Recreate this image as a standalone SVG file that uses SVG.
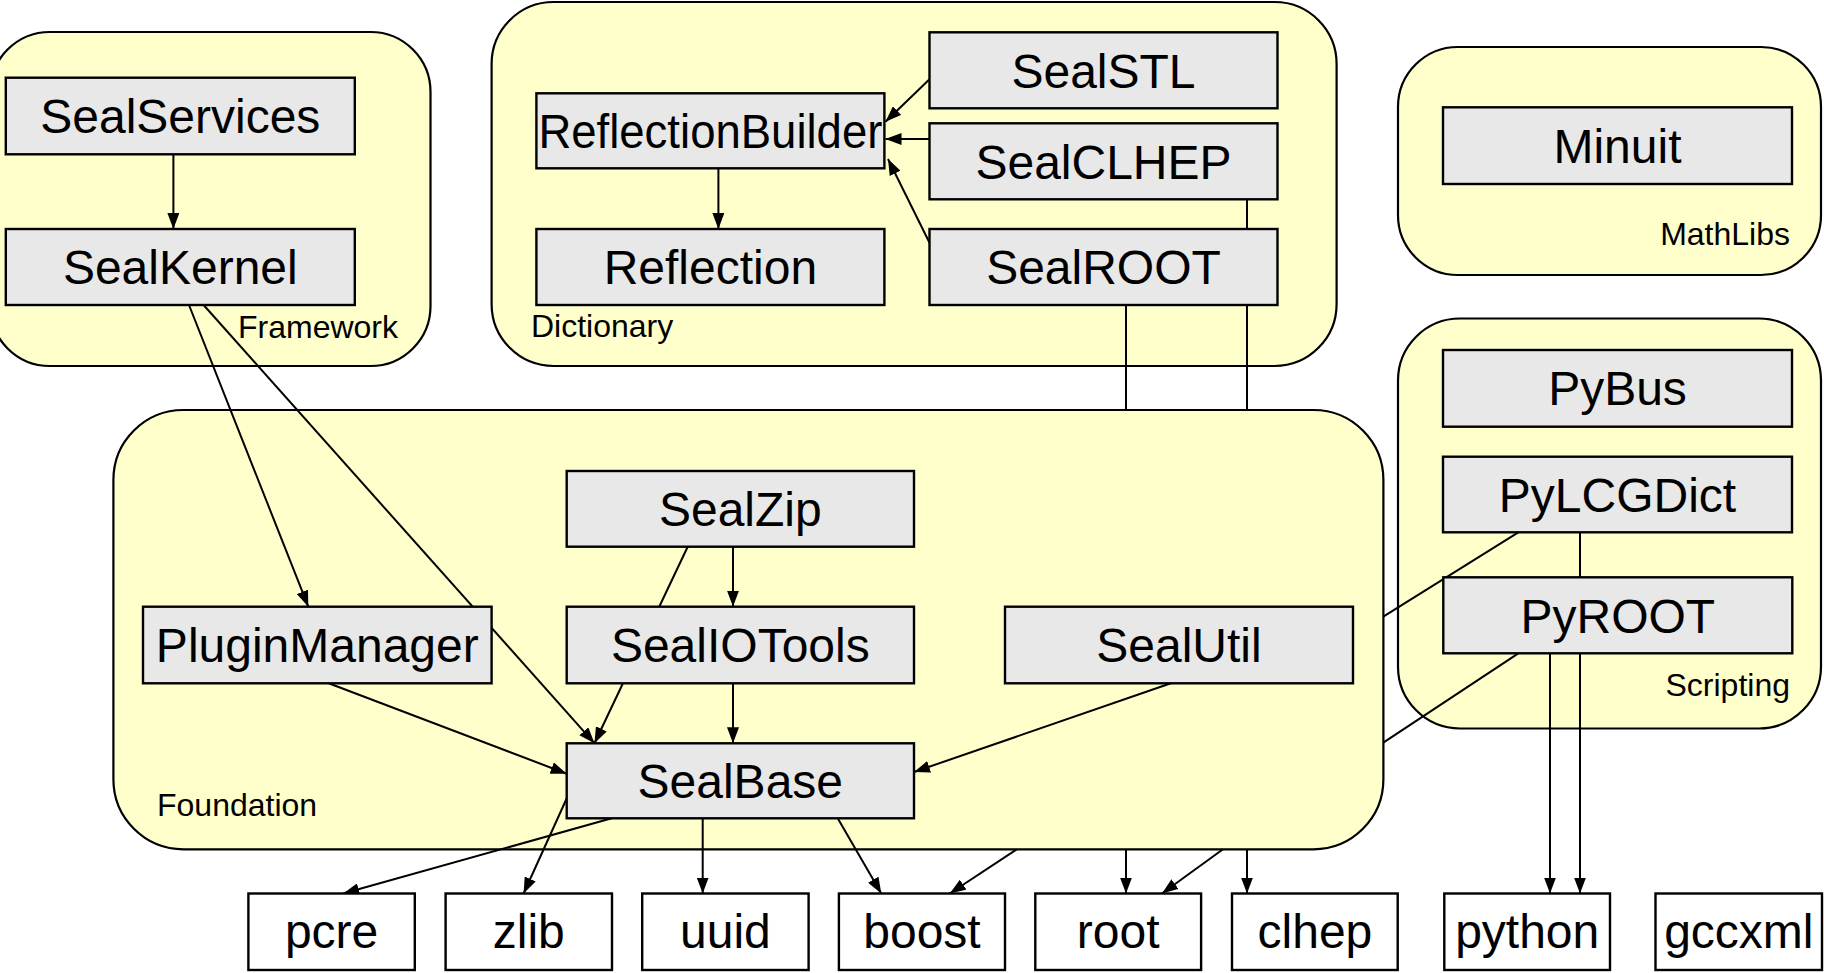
<svg xmlns="http://www.w3.org/2000/svg" width="1824" height="973" viewBox="0 0 1824 973">
<style>
.cl{fill:#FFFFCC;stroke:#000;stroke-width:2.2}
.nd{fill:#E8E8E8;stroke:#000;stroke-width:2.4}
.ext{fill:#FFFFFF;stroke:#000;stroke-width:2.4}
.t{font-family:"Liberation Sans",Arial,sans-serif;font-size:48px;fill:#000;text-anchor:middle}
.lb{font-family:"Liberation Sans",Arial,sans-serif;font-size:32px;fill:#000}
.c line,.c path{stroke:#000;stroke-width:2;fill:none}
</style>
<defs>
<marker id="a" viewBox="0 0 16 12" refX="16" refY="6" markerWidth="16" markerHeight="12" orient="auto" markerUnits="userSpaceOnUse"><path d="M0,0 L16,6 L0,12 z" fill="#000"/></marker>
</defs>
<rect width="1824" height="973" fill="#FFFFFF"/>

<g id="cluster-framework"><rect class="cl" x="-10" y="32" width="440.5" height="334" rx="60" ry="60"/><text class="lb" x="238" y="338">Framework</text></g>
<g id="cluster-dictionary"><rect class="cl" x="491.6" y="2" width="845" height="364" rx="62" ry="62"/><text class="lb" x="531" y="337">Dictionary</text></g>
<g id="cluster-mathlibs"><rect class="cl" x="1398" y="47" width="423" height="228" rx="60" ry="60"/><text class="lb" x="1790" y="245" text-anchor="end">MathLibs</text></g>
<g id="cluster-scripting"><rect class="cl" x="1398" y="318.5" width="423" height="410" rx="62" ry="62"/><text class="lb" x="1790" y="696" text-anchor="end">Scripting</text></g>
<g id="cluster-foundation"><rect class="cl" x="113.4" y="410" width="1270" height="439.3" rx="70" ry="70"/><text class="lb" x="157" y="816">Foundation</text></g>

<g id="connectors" class="c">
<line x1="173.4" y1="154.3" x2="173.4" y2="229" marker-end="url(#a)"/>
<line x1="189" y1="305" x2="308.3" y2="606.7" marker-end="url(#a)"/>
<line x1="203.6" y1="305" x2="594.5" y2="743.3" marker-end="url(#a)"/>
<line x1="718.4" y1="168.3" x2="718.4" y2="229" marker-end="url(#a)"/>
<line x1="929.5" y1="79.3" x2="885.5" y2="121.7" marker-end="url(#a)"/>
<line x1="929.5" y1="139" x2="885.5" y2="139" marker-end="url(#a)"/>
<line x1="929.5" y1="242.7" x2="888" y2="159" marker-end="url(#a)"/>
<line x1="1247" y1="199.3" x2="1247" y2="229"/>
<line x1="1247" y1="305" x2="1247" y2="410"/>
<line x1="1247" y1="849.3" x2="1247" y2="893.5" marker-end="url(#a)"/>
<line x1="1126" y1="305" x2="1126" y2="410"/>
<line x1="1126" y1="849.3" x2="1126" y2="893.5" marker-end="url(#a)"/>
<line x1="733" y1="546.7" x2="733" y2="606.7" marker-end="url(#a)"/>
<line x1="687.7" y1="546.7" x2="594.5" y2="743.3" marker-end="url(#a)"/>
<line x1="733" y1="683.3" x2="733" y2="743.3" marker-end="url(#a)"/>
<line x1="328.7" y1="683.3" x2="566.7" y2="773.7" marker-end="url(#a)"/>
<line x1="1170.9" y1="683.3" x2="914" y2="772" marker-end="url(#a)"/>
<line x1="611.7" y1="818.3" x2="343.2" y2="893.5" marker-end="url(#a)"/>
<line x1="574.6" y1="781" x2="523.6" y2="893.5" marker-end="url(#a)"/>
<line x1="702.7" y1="818.3" x2="702.7" y2="893.5" marker-end="url(#a)"/>
<line x1="837.7" y1="818.3" x2="881.3" y2="893.5" marker-end="url(#a)"/>
<line x1="1016.7" y1="849.3" x2="949.8" y2="893.5" marker-end="url(#a)"/>
<line x1="1223" y1="849.3" x2="1162" y2="893.5" marker-end="url(#a)"/>
<line x1="1580" y1="532.3" x2="1580" y2="577.3"/>
<line x1="1580" y1="653.3" x2="1580" y2="893.5" marker-end="url(#a)"/>
<line x1="1550" y1="653.3" x2="1550" y2="893.5" marker-end="url(#a)"/>
<line x1="1518.3" y1="532.3" x2="1383.3" y2="616.7"/>
<line x1="1518.3" y1="653.3" x2="1383.3" y2="742.7"/>
</g>

<g id="SealServices"><rect class="nd" x="5.8" y="77.7" width="349" height="76.6"/><text class="t" x="180.3" y="133">SealServices</text></g>
<g id="SealKernel"><rect class="nd" x="5.8" y="229" width="349" height="76"/><text class="t" x="180.3" y="284">SealKernel</text></g>
<g id="ReflectionBuilder"><rect class="nd" x="536.4" y="93.3" width="348" height="75"/><text class="t" x="710.4" y="148" textLength="344" lengthAdjust="spacingAndGlyphs">ReflectionBuilder</text></g>
<g id="Reflection"><rect class="nd" x="536.4" y="229" width="348" height="76"/><text class="t" x="710.4" y="284">Reflection</text></g>
<g id="SealSTL"><rect class="nd" x="929.5" y="32.3" width="348" height="76"/><text class="t" x="1103.5" y="87.5">SealSTL</text></g>
<g id="SealCLHEP"><rect class="nd" x="929.5" y="123.3" width="348" height="76"/><text class="t" x="1103.5" y="178.5">SealCLHEP</text></g>
<g id="SealROOT"><rect class="nd" x="929.5" y="229" width="348" height="76"/><text class="t" x="1103.5" y="284">SealROOT</text></g>
<g id="Minuit"><rect class="nd" x="1443" y="107.3" width="349" height="76.7"/><text class="t" x="1617.5" y="162.5">Minuit</text></g>
<g id="PyBus"><rect class="nd" x="1443" y="350" width="349" height="76.7"/><text class="t" x="1617.5" y="405">PyBus</text></g>
<g id="PyLCGDict"><rect class="nd" x="1443" y="456.7" width="349" height="75.6"/><text class="t" x="1617.5" y="511.5">PyLCGDict</text></g>
<g id="PyROOT"><rect class="nd" x="1443.3" y="577.3" width="349" height="76"/><text class="t" x="1617.8" y="632.5">PyROOT</text></g>
<g id="SealZip"><rect class="nd" x="566.7" y="471" width="347.3" height="75.7"/><text class="t" x="740.3" y="526">SealZip</text></g>
<g id="PluginManager"><rect class="nd" x="143" y="606.7" width="348.6" height="76.6"/><text class="t" x="317.3" y="662">PluginManager</text></g>
<g id="SealIOTools"><rect class="nd" x="566.7" y="606.7" width="347.3" height="76.6"/><text class="t" x="740.3" y="662">SealIOTools</text></g>
<g id="SealUtil"><rect class="nd" x="1005" y="606.7" width="348" height="76.6"/><text class="t" x="1179" y="662">SealUtil</text></g>
<g id="SealBase"><rect class="nd" x="566.7" y="743.3" width="347.3" height="75"/><text class="t" x="740.3" y="798">SealBase</text></g>

<g id="pcre"><rect class="ext" x="248.4" y="893.5" width="166.4" height="76.5"/><text class="t" x="331.6" y="948">pcre</text></g>
<g id="zlib"><rect class="ext" x="445.6" y="893.5" width="166.4" height="76.5"/><text class="t" x="528.8" y="948">zlib</text></g>
<g id="uuid"><rect class="ext" x="642.2" y="893.5" width="166.4" height="76.5"/><text class="t" x="725.4" y="948">uuid</text></g>
<g id="boost"><rect class="ext" x="838.9" y="893.5" width="166.1" height="76.5"/><text class="t" x="922" y="948">boost</text></g>
<g id="root"><rect class="ext" x="1035.3" y="893.5" width="165.8" height="76.5"/><text class="t" x="1118.2" y="948">root</text></g>
<g id="clhep"><rect class="ext" x="1232" y="893.5" width="165.7" height="76.5"/><text class="t" x="1314.9" y="948">clhep</text></g>
<g id="python"><rect class="ext" x="1444.3" y="893.5" width="165.7" height="76.5"/><text class="t" x="1527.2" y="948">python</text></g>
<g id="gccxml"><rect class="ext" x="1655.5" y="893.5" width="166.5" height="76.5"/><text class="t" x="1738.8" y="948">gccxml</text></g>
</svg>
